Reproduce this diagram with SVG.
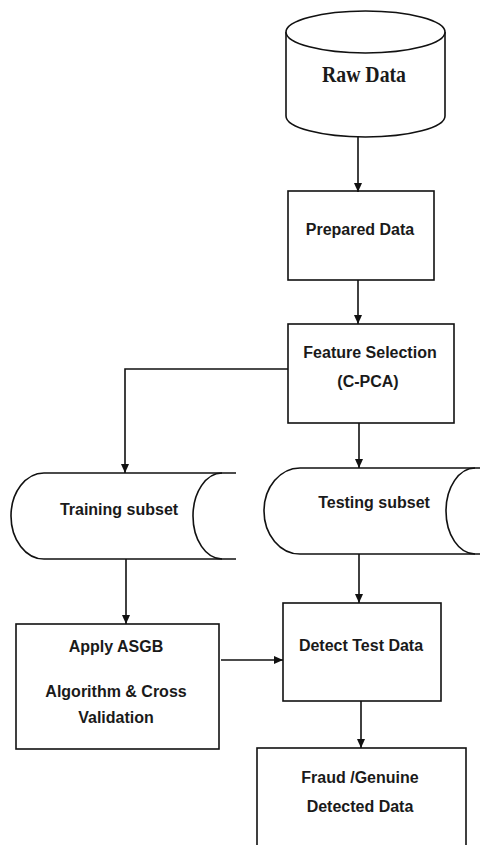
<svg xmlns="http://www.w3.org/2000/svg" width="480" height="845" viewBox="0 0 480 845">
<style>
  .shape { fill: #fff; stroke: #111; stroke-width: 1.6; }
  .line { fill: none; stroke: #111; stroke-width: 1.6; }
  .lbl { font-family: "Liberation Sans", Arial, sans-serif; font-weight: bold; font-size: 16px; fill: #1a1a1a; text-anchor: middle; }
  .serif { font-family: "Liberation Serif", "Times New Roman", serif; font-weight: bold; font-size: 24px; fill: #1a1a1a; text-anchor: middle; }
</style>
<defs>
  <marker id="arr" markerWidth="10" markerHeight="10" refX="9" refY="5" orient="auto" markerUnits="userSpaceOnUse">
    <path d="M0,1 L9,5 L0,9 Z" fill="#111"/>
  </marker>
</defs>
<rect width="480" height="845" fill="#fff"/>

<g id="raw-data">
  <path class="shape" d="M286,32 L286,116 A79.5,21 0 0 0 445,116 L445,32"/>
  <ellipse class="shape" cx="365.5" cy="32" rx="79.5" ry="21"/>
  <text class="serif" x="364" y="82" textLength="84" lengthAdjust="spacingAndGlyphs">Raw Data</text>
</g>

<g id="prepared-data">
  <rect class="shape" x="288" y="191" width="146" height="89"/>
  <text class="lbl" x="360" y="235">Prepared Data</text>
</g>

<g id="feature-selection">
  <rect class="shape" x="288" y="324" width="166" height="99"/>
  <text class="lbl" x="370" y="358">Feature Selection</text>
  <text class="lbl" x="368" y="387">(C-PCA)</text>
</g>

<g id="training-subset">
  <path class="shape" d="M236,473 L44,473 A33,43 0 0 0 44,559 L236,559"/>
  <path class="line" d="M222,473 A29,43 0 0 0 222,559"/>
  <text class="lbl" x="119" y="515">Training subset</text>
</g>

<g id="testing-subset">
  <path class="shape" d="M482,468 L300,468 A36,43 0 0 0 300,554 L482,554"/>
  <path class="line" d="M475,468 A29,43 0 0 0 475,554"/>
  <text class="lbl" x="374" y="508">Testing subset</text>
</g>

<g id="apply-asgb">
  <rect class="shape" x="16" y="624" width="203" height="125"/>
  <text class="lbl" x="116" y="652">Apply ASGB</text>
  <text class="lbl" x="116" y="697">Algorithm &amp; Cross</text>
  <text class="lbl" x="116" y="723">Validation</text>
</g>

<g id="detect-test-data">
  <rect class="shape" x="283" y="603" width="158" height="98"/>
  <text class="lbl" x="361" y="651">Detect Test Data</text>
</g>

<g id="fraud-genuine">
  <rect class="shape" x="257" y="748" width="209" height="120"/>
  <text class="lbl" x="360" y="783">Fraud /Genuine</text>
  <text class="lbl" x="360" y="812">Detected Data</text>
</g>

<g id="connectors">
  <line class="line" x1="358" y1="137" x2="358" y2="192" marker-end="url(#arr)"/>
  <line class="line" x1="358" y1="280" x2="358" y2="324" marker-end="url(#arr)"/>
  <polyline class="line" points="288,369 125,369 125,473" marker-end="url(#arr)"/>
  <line class="line" x1="359" y1="423" x2="359" y2="468" marker-end="url(#arr)"/>
  <line class="line" x1="126" y1="559" x2="126" y2="624" marker-end="url(#arr)"/>
  <line class="line" x1="359" y1="554" x2="359" y2="603" marker-end="url(#arr)"/>
  <line class="line" x1="221" y1="660" x2="283" y2="660" marker-end="url(#arr)"/>
  <line class="line" x1="361" y1="701" x2="361" y2="748" marker-end="url(#arr)"/>
</g>
</svg>
